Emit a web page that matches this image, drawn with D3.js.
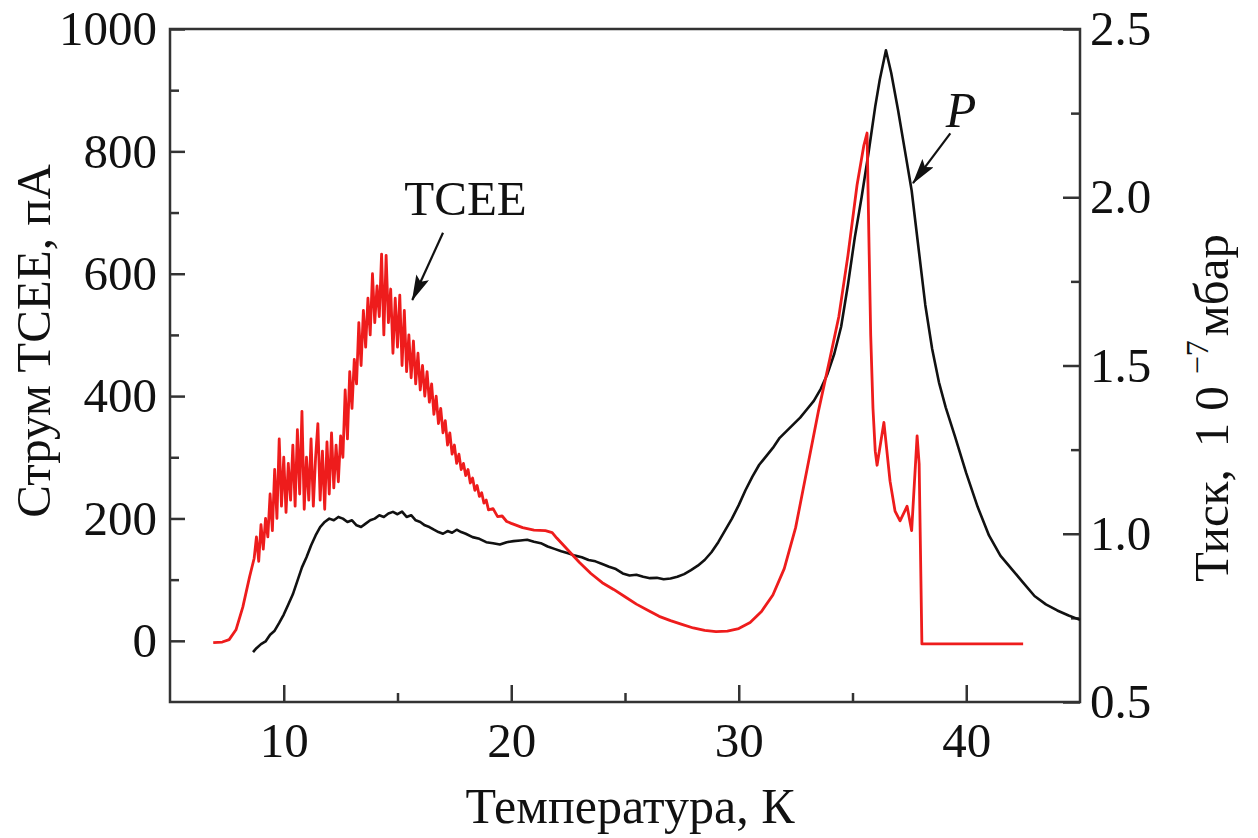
<!DOCTYPE html>
<html>
<head>
<meta charset="utf-8">
<script src="https://cdn.jsdelivr.net/npm/d3@7"></script>
<style>
  body { margin: 0; background: #fff; }
  svg { display: block; }
</style>
</head>
<body>
<svg id="chart" width="1258" height="838"></svg>
<script>
// TCEE current, pA  [T (K), I]
const tcee = [
  [6.9, -3], [7.3, -2], [7.6, 2], [7.9, 18], [8.2, 55], [8.5, 105], [8.7, 135],
  [8.8, 170], [8.9, 130], [9.0, 190], [9.1, 150], [9.2, 200], [9.3, 170], [9.4, 240],
  [9.5, 180], [9.6, 280], [9.7, 200], [9.8, 330], [9.9, 220], [10.0, 300], [10.1, 210],
  [10.2, 290], [10.3, 230], [10.4, 320], [10.5, 220], [10.6, 345], [10.7, 240], [10.8, 375],
  [10.9, 215], [11.0, 300], [11.1, 230], [11.2, 330], [11.3, 220], [11.4, 300], [11.5, 355],
  [11.6, 230], [11.7, 310], [11.8, 215], [11.9, 325], [12.0, 240], [12.1, 340], [12.2, 250],
  [12.3, 320], [12.4, 260], [12.5, 335], [12.6, 300], [12.7, 410], [12.8, 330], [12.9, 440],
  [13.0, 380], [13.1, 460], [13.2, 420], [13.3, 520], [13.4, 450], [13.5, 540], [13.6, 480],
  [13.7, 560], [13.8, 500], [13.9, 600], [14.0, 520], [14.1, 580], [14.2, 530], [14.3, 632],
  [14.4, 500], [14.5, 630], [14.6, 520], [14.7, 575], [14.8, 470], [14.9, 560], [15.0, 480],
  [15.1, 565], [15.2, 450], [15.3, 540], [15.4, 440], [15.5, 500], [15.6, 430], [15.7, 490],
  [15.8, 420], [15.9, 470], [16.0, 410], [16.1, 450], [16.2, 400], [16.3, 440], [16.4, 390],
  [16.5, 420], [16.6, 370], [16.7, 400], [16.8, 355], [16.9, 380], [17.0, 340], [17.1, 360],
  [17.2, 320], [17.3, 340], [17.4, 305], [17.5, 320], [17.6, 290], [17.7, 305], [17.8, 280],
  [17.9, 290], [18.0, 270], [18.1, 280], [18.2, 258], [18.3, 266], [18.4, 246], [18.5, 254],
  [18.6, 236], [18.7, 242], [18.8, 225], [18.9, 230], [19.0, 214], [19.2, 216], [19.4, 203],
  [19.6, 204], [19.8, 195], [20.0, 192], [20.5, 185], [21.0, 181], [21.5, 180], [21.8, 177],
  [22.0, 168], [22.5, 148], [23.0, 128], [23.5, 110], [24.0, 95], [24.5, 84], [25.0, 72],
  [25.5, 60], [26.0, 50], [26.5, 40], [27.0, 33], [27.5, 27], [28.0, 21], [28.5, 17],
  [29.0, 15], [29.5, 16], [30.0, 20], [30.5, 30], [31.0, 48], [31.5, 75], [32.0, 118],
  [32.5, 185], [33.0, 280], [33.5, 375], [34.0, 460], [34.4, 530], [34.8, 630], [35.2, 745],
  [35.5, 810], [35.64, 830], [35.72, 660], [35.8, 500], [35.9, 380], [36.0, 310], [36.08, 287],
  [36.38, 357], [36.65, 261], [36.87, 212], [37.09, 196], [37.4, 220], [37.6, 180], [37.84, 335],
  [37.93, 289], [38.05, -5], [42.5, -5]
]

// pressure, 10^-7 mbar  [T (K), P]
const pressure = [
  [8.65, 0.648], [8.8, 0.66], [9.0, 0.672], [9.2, 0.68], [9.4, 0.7], [9.6, 0.712], [9.8, 0.735],
  [10.0, 0.76], [10.2, 0.79], [10.4, 0.82], [10.6, 0.86], [10.8, 0.9], [11.0, 0.93], [11.2, 0.965],
  [11.4, 0.995], [11.6, 1.02], [11.8, 1.035], [12.0, 1.045], [12.2, 1.04], [12.4, 1.05], [12.6, 1.045],
  [12.8, 1.035], [13.0, 1.04], [13.2, 1.025], [13.4, 1.02], [13.6, 1.03], [13.8, 1.04], [14.0, 1.045],
  [14.2, 1.055], [14.4, 1.05], [14.6, 1.06], [14.8, 1.065], [15.0, 1.058], [15.2, 1.066], [15.4, 1.05],
  [15.6, 1.055], [15.8, 1.04], [16.0, 1.035], [16.2, 1.025], [16.4, 1.02], [16.6, 1.012], [16.8, 1.005],
  [17.0, 1.0], [17.2, 1.008], [17.4, 1.003], [17.6, 1.012], [17.8, 1.005], [18.0, 1.0], [18.3, 0.99],
  [18.6, 0.985], [18.9, 0.975], [19.2, 0.972], [19.5, 0.968], [19.8, 0.975], [20.1, 0.978], [20.4, 0.98],
  [20.7, 0.982], [21.0, 0.976], [21.3, 0.972], [21.6, 0.962], [21.9, 0.955], [22.2, 0.948], [22.5, 0.942],
  [22.8, 0.935], [23.1, 0.93], [23.4, 0.922], [23.7, 0.918], [24.0, 0.91], [24.3, 0.902], [24.6, 0.895],
  [24.9, 0.882], [25.2, 0.876], [25.5, 0.878], [25.8, 0.872], [26.1, 0.868], [26.4, 0.869], [26.7, 0.865],
  [27.0, 0.867], [27.3, 0.872], [27.6, 0.88], [27.9, 0.892], [28.2, 0.905], [28.5, 0.922], [28.8, 0.945],
  [29.1, 0.975], [29.4, 1.01], [29.7, 1.045], [30.0, 1.085], [30.3, 1.13], [30.6, 1.17], [30.9, 1.205],
  [31.2, 1.23], [31.5, 1.255], [31.8, 1.285], [32.1, 1.305], [32.4, 1.325], [32.7, 1.345], [33.0, 1.37],
  [33.3, 1.395], [33.6, 1.43], [33.9, 1.475], [34.2, 1.535], [34.5, 1.615], [34.8, 1.74], [35.1, 1.88],
  [35.4, 2.0], [35.7, 2.13], [36.0, 2.27], [36.2, 2.35], [36.47, 2.437], [36.7, 2.37], [37.0, 2.26],
  [37.3, 2.14], [37.6, 2.02], [37.9, 1.85], [38.2, 1.68], [38.5, 1.55], [38.8, 1.45], [39.1, 1.375],
  [39.5, 1.29], [40.0, 1.18], [40.5, 1.08], [41.0, 0.995], [41.5, 0.935], [42.0, 0.895], [42.5, 0.855],
  [43.0, 0.815], [43.5, 0.79], [44.0, 0.772], [44.5, 0.757], [45.0, 0.744]
]

const xMajor = [10, 20, 30, 40]
const xMinor = [15, 25, 35]
const yLeftMajor = [0, 200, 400, 600, 800, 1000]
const yLeftMinor = [100, 300, 500, 700, 900]
const yRightMajor = [0.5, 1.0, 1.5, 2.0, 2.5]
const yRightMinor = [0.75, 1.25, 1.75, 2.25]

const serif = '"Liberation Serif", "Times New Roman", serif'
const red = '#ee1c1c', black = '#111'

const svg = d3.select('#chart')
const L = 170, R = 1080, T = 29, B = 702

const xScale = d3.scaleLinear().domain([5, 45]).range([L, R])
const yLeft = d3.scaleLinear().domain([-100, 1000]).range([B, T])
const yRight = d3.scaleLinear().domain([0.5, 2.5]).range([B, T])

function styleAxis(g) {
    g.select('.domain').remove()
    g.selectAll('line').attr('stroke', '#333').attr('stroke-width', 2.5)
    g.selectAll('text').attr('fill', '#111')
    g.attr('font-family', serif).attr('font-size', 49)
}

// x axis
svg.append('g').attr('transform', `translate(0,${B})`)
    .call(d3.axisBottom(xScale).tickValues(xMajor).tickSize(-17).tickPadding(20).tickFormat(d3.format('d')))
    .call(styleAxis)
svg.append('g').attr('transform', `translate(0,${B})`)
    .call(d3.axisBottom(xScale).tickValues(xMinor).tickSize(-9).tickFormat(''))
    .call(styleAxis)

// left axis
svg.append('g').attr('transform', `translate(${L},0)`)
    .call(d3.axisLeft(yLeft).tickValues(yLeftMajor).tickSize(-15).tickPadding(13).tickFormat(d3.format('d')))
    .call(styleAxis)
svg.append('g').attr('transform', `translate(${L},0)`)
    .call(d3.axisLeft(yLeft).tickValues(yLeftMinor).tickSize(-9).tickFormat(''))
    .call(styleAxis)

// right axis
svg.append('g').attr('transform', `translate(${R},0)`)
    .call(d3.axisRight(yRight).tickValues(yRightMajor).tickSize(-17).tickPadding(10).tickFormat(d3.format('.1f')))
    .call(styleAxis)
svg.append('g').attr('transform', `translate(${R},0)`)
    .call(d3.axisRight(yRight).tickValues(yRightMinor).tickSize(-9).tickFormat(''))
    .call(styleAxis)

// frame
svg.append('rect')
    .attr('x', L).attr('y', T).attr('width', R - L).attr('height', B - T)
    .attr('fill', 'none').attr('stroke', '#333').attr('stroke-width', 2.5)

// curves
const lineLeft = d3.line().x(d => xScale(d[0])).y(d => yLeft(d[1]))
const lineRight = d3.line().x(d => xScale(d[0])).y(d => yRight(d[1]))

svg.append('path').datum(pressure)
    .attr('d', lineRight)
    .attr('fill', 'none').attr('stroke', black).attr('stroke-width', 2.6)
    .attr('stroke-linejoin', 'round')

svg.append('path').datum(tcee)
    .attr('d', lineLeft)
    .attr('fill', 'none').attr('stroke', red).attr('stroke-width', 2.8)
    .attr('stroke-linejoin', 'round')

// arrows and labels
svg.append('defs').append('marker')
    .attr('id', 'head')
    .attr('viewBox', '0 0 26 14')
    .attr('refX', 25).attr('refY', 7)
    .attr('markerWidth', 26).attr('markerHeight', 14)
    .attr('markerUnits', 'userSpaceOnUse')
    .attr('orient', 'auto')
    .append('path').attr('d', 'M0,0L26,7L0,14L5,7Z').attr('fill', '#111')

svg.append('line')
    .attr('x1', xScale(17.0)).attr('y1', yLeft(667))
    .attr('x2', xScale(15.65)).attr('y2', yLeft(557))
    .attr('stroke', '#111').attr('stroke-width', 2.2)
    .attr('marker-end', 'url(#head)')

svg.append('text')
    .attr('x', xScale(15.3)).attr('y', yLeft(696))
    .attr('font-family', serif).attr('font-size', 49).attr('fill', '#111')
    .text('TCEE')

svg.append('line')
    .attr('x1', xScale(39.3)).attr('y1', yRight(2.19))
    .attr('x2', xScale(37.66)).attr('y2', yRight(2.042))
    .attr('stroke', '#111').attr('stroke-width', 2.2)
    .attr('marker-end', 'url(#head)')

svg.append('text')
    .attr('x', xScale(39.1)).attr('y', yRight(2.21))
    .attr('font-family', serif).attr('font-size', 50).attr('font-style', 'italic').attr('fill', '#111')
    .text('P')

// axis titles
svg.append('text')
    .attr('x', 630).attr('y', 823)
    .attr('text-anchor', 'middle')
    .attr('font-family', serif).attr('font-size', 50).attr('fill', '#111')
    .text('Температура, К')

svg.append('text')
    .attr('transform', 'translate(50,341) rotate(-90)')
    .attr('text-anchor', 'middle')
    .attr('font-family', serif).attr('font-size', 49).attr('fill', '#111')
    .text('Струм ТСЕЕ, пА')

const rt = svg.append('text')
    .attr('transform', 'translate(1228,408) rotate(-90)')
    .attr('text-anchor', 'middle')
    .attr('font-family', serif).attr('font-size', 49).attr('fill', '#111')
rt.append('tspan').text('Тиск,')
rt.append('tspan').attr('dx', 22).text('1')
rt.append('tspan').attr('dx', 12).text('0')
rt.append('tspan').attr('font-size', 32).attr('dx', 12).attr('dy', -20).text('−7')
rt.append('tspan').attr('dx', 4).attr('dy', 20).text('мбар')
</script>
</body>
</html>
